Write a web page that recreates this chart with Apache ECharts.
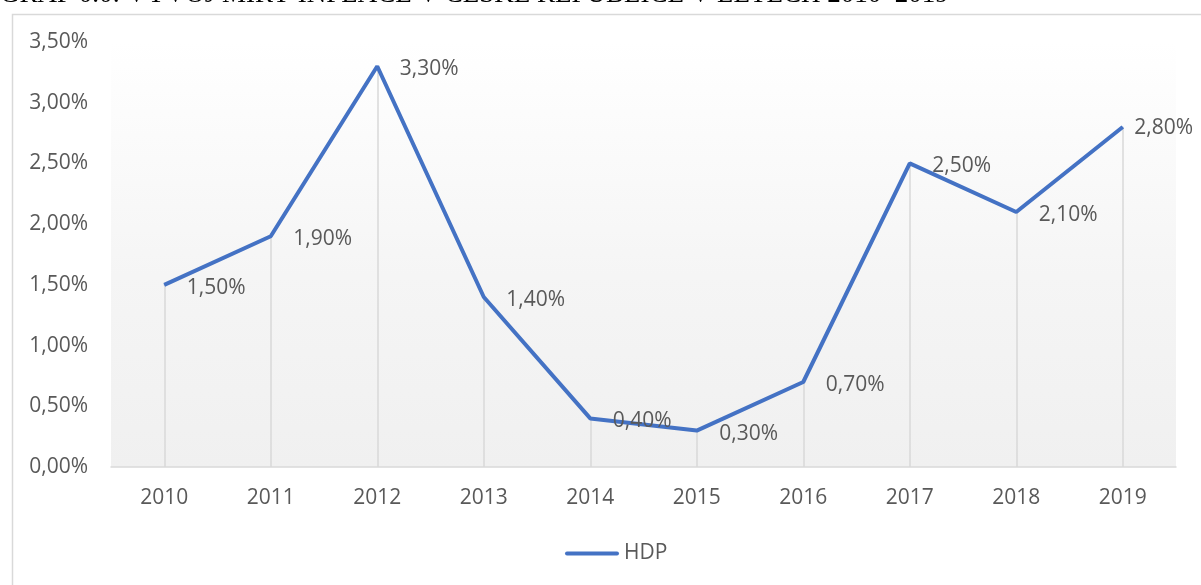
<!DOCTYPE html>
<html>
<head>
<meta charset="utf-8">
<script src="https://cdn.jsdelivr.net/npm/echarts@6/dist/echarts.min.js"></script>
<style>
html,body{margin:0;padding:0;background:#fff;}
#c{width:1201px;height:585px;}
</style>
</head>
<body>
<div id="c"></div>
<script>
const titleText = 'GRAF 0.0: VÝVOJ MÍRY INFLACE V ČESKÉ REPUBLICE V LETECH 2010–2019';
const years = ['2010','2011','2012','2013','2014','2015','2016','2017','2018','2019'];
const hdp = [1.5, 1.9, 3.3, 1.4, 0.4, 0.3, 0.7, 2.5, 2.1, 2.8];
const seriesName = 'HDP';

const fmt = v => v.toFixed(2).replace('.', ',') + '%';
const gray = '#595959';
const font = '"Open Sans", "Noto Sans", sans-serif';
const fs = 21;

const chart = echarts.init(document.getElementById('c'), null, {renderer: 'canvas'});
chart.setOption({
  animation: false,
  graphic: [
    {type: 'rect', left: 10, top: 12, shape: {width: 1300, height: 700},
     style: {fill: 'none', stroke: '#d9d9d9', lineWidth: 1.5}, z: -10},
    {type: 'text', left: 0, top: -19,
     style: {text: titleText, font: '27px "Liberation Serif", serif', fill: '#000'}}
  ],
  grid: {left: 111, right: 25, top: 42, bottom: 118, show: true, borderWidth: 0,
    backgroundColor: new echarts.graphic.LinearGradient(0, 0, 0, 1, [
      {offset: 0, color: '#ffffff'}, {offset: 0.55, color: '#f5f5f5'}, {offset: 1, color: '#f0f0f0'}])},
  legend: {top: 538, left: 560, data: [seriesName], itemWidth: 54, itemHeight: 10, itemGap: 6,
    icon: 'path://M2,3 L52,3 A2,2 0 0 1 52,7 L2,7 A2,2 0 0 1 2,3 Z',
    textStyle: {color: gray, fontSize: fs, fontFamily: font}},
  xAxis: {type: 'category', data: years, boundaryGap: true,
    axisLine: {lineStyle: {color: '#d9d9d9', width: 1.5}},
    axisTick: {show: false},
    axisLabel: {color: gray, fontSize: fs, fontFamily: font, margin: 21}},
  yAxis: {type: 'value', min: 0, max: 3.5, interval: 0.5,
    splitLine: {show: false}, axisLine: {show: false}, axisTick: {show: false},
    axisLabel: {color: gray, fontSize: fs, fontFamily: font, margin: 23, formatter: v => fmt(v)}},
  series: [{
    name: seriesName, type: 'line', symbol: 'circle', symbolSize: 1, showSymbol: true,
    data: hdp.map((v, i) => i === hdp.length - 1
      ? {value: v, label: {distance: 11, offset: [0, 1]}}
      : v),
    lineStyle: {color: '#4472C4', width: 4},
    itemStyle: {color: '#4472C4'},
    label: {show: true, position: 'right', distance: 22, offset: [0, 3], color: gray,
      fontSize: fs, fontFamily: font, formatter: p => fmt(p.value)},
    markLine: {silent: true, symbol: 'none', label: {show: false},
      lineStyle: {color: '#d9d9d9', width: 1.5, type: 'solid'},
      data: hdp.map((v, i) => [{coord: [i, 0]}, {coord: [i, v]}])},
    z: 5
  }]
});
</script>
</body>
</html>
